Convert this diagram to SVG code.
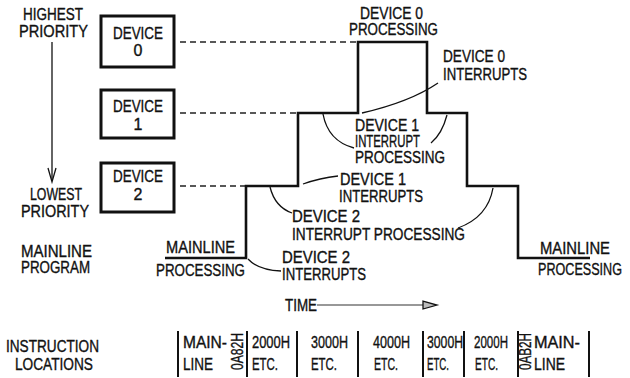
<svg xmlns="http://www.w3.org/2000/svg" width="630" height="378" viewBox="0 0 630 378">
<style>
text{font-family:"Liberation Sans",Arial,sans-serif;font-size:16px;fill:#111;stroke:#111;stroke-width:0.35}
.box{fill:#fff;stroke:#111;stroke-width:3}
.dash{fill:none;stroke:#222;stroke-width:1.3;stroke-dasharray:6 4}
.step{fill:none;stroke:#111;stroke-width:2.6}
.thin{fill:none;stroke:#111;stroke-width:1.3}
.bar{stroke:#111;stroke-width:2}
.c{text-anchor:middle}
</style>
<rect width="630" height="378" fill="#fff"/>
<g id="labels-left">
<text x="23" y="20" textLength="60" lengthAdjust="spacingAndGlyphs">HIGHEST</text>
<text x="19" y="37" textLength="69" lengthAdjust="spacingAndGlyphs">PRIORITY</text>
<text x="30" y="200" textLength="52" lengthAdjust="spacingAndGlyphs">LOWEST</text>
<text x="21" y="217" textLength="68" lengthAdjust="spacingAndGlyphs">PRIORITY</text>
<text x="21" y="257" textLength="71" lengthAdjust="spacingAndGlyphs">MAINLINE</text>
<text x="21" y="273" textLength="69" lengthAdjust="spacingAndGlyphs">PROGRAM</text>
<text x="6" y="352" textLength="93" lengthAdjust="spacingAndGlyphs">INSTRUCTION</text>
<text x="15" y="370" textLength="78" lengthAdjust="spacingAndGlyphs">LOCATIONS</text>
</g>
<g id="priority-arrow">
<line class="thin" x1="52" y1="42" x2="52" y2="181"/>
<polyline class="thin" points="48,168 52,182 56,168"/>
</g>
<g id="device0">
<rect class="box" x="101" y="16" width="73" height="51"/>
<text x="113" y="39" textLength="50" lengthAdjust="spacingAndGlyphs">DEVICE</text>
<text class="c" x="138" y="56">0</text>
</g>
<g id="device1">
<rect class="box" x="101" y="90" width="73" height="48"/>
<text x="113" y="112" textLength="50" lengthAdjust="spacingAndGlyphs">DEVICE</text>
<text class="c" x="138" y="130">1</text>
</g>
<g id="device2">
<rect class="box" x="101" y="163" width="73" height="49"/>
<text x="113" y="182" textLength="50" lengthAdjust="spacingAndGlyphs">DEVICE</text>
<text class="c" x="138" y="200">2</text>
</g>
<g id="connectors">
<line class="dash" x1="180" y1="42" x2="358" y2="42"/>
<line class="dash" x1="180" y1="113" x2="298" y2="113"/>
<line class="dash" x1="180" y1="186" x2="246" y2="186"/>
<polyline class="step" points="165,258 246,258 246,186 298,186 298,113 358,113 358,42 427,42 427,113 467,113 467,186 518,186 518,258 590,258"/>
<path class="thin" d="M323,114 Q328,141 354,148"/>
<path class="thin" d="M447,115 Q442,134 431,143"/>
<path class="thin" d="M362,113 Q410,102 438,83"/>
<path class="thin" d="M303,184 Q320,178 338,176"/>
<path class="thin" d="M270,187 Q275,207 292,213"/>
<path class="thin" d="M493,188 Q488,217 458,228"/>
<path class="thin" d="M248,259 Q258,270 281,271"/>
<line x1="317" y1="305" x2="424" y2="305" stroke="#333" stroke-width="1.2"/>
<polygon points="423,301 437,305 423,309" fill="#bbb" stroke="#111" stroke-width="1.3"/>
</g>
<g id="chart-labels">
<text x="360" y="19" textLength="63" lengthAdjust="spacingAndGlyphs">DEVICE 0</text>
<text x="349" y="35" textLength="89" lengthAdjust="spacingAndGlyphs">PROCESSING</text>
<text x="443" y="62" textLength="62" lengthAdjust="spacingAndGlyphs">DEVICE 0</text>
<text x="443" y="80" textLength="84" lengthAdjust="spacingAndGlyphs">INTERRUPTS</text>
<text x="355" y="131" textLength="64" lengthAdjust="spacingAndGlyphs">DEVICE 1</text>
<text x="355" y="147" textLength="65" lengthAdjust="spacingAndGlyphs">INTERRUPT</text>
<text x="355" y="163" textLength="90" lengthAdjust="spacingAndGlyphs">PROCESSING</text>
<text x="340" y="185" textLength="66" lengthAdjust="spacingAndGlyphs">DEVICE 1</text>
<text x="339" y="202" textLength="84" lengthAdjust="spacingAndGlyphs">INTERRUPTS</text>
<text x="292" y="222" textLength="68" lengthAdjust="spacingAndGlyphs">DEVICE 2</text>
<text x="292" y="240" textLength="173" lengthAdjust="spacingAndGlyphs">INTERRUPT PROCESSING</text>
<text x="282" y="263" textLength="68" lengthAdjust="spacingAndGlyphs">DEVICE 2</text>
<text x="282" y="280" textLength="84" lengthAdjust="spacingAndGlyphs">INTERRUPTS</text>
<text x="166" y="253" textLength="69" lengthAdjust="spacingAndGlyphs">MAINLINE</text>
<text x="156" y="276" textLength="89" lengthAdjust="spacingAndGlyphs">PROCESSING</text>
<text x="540" y="254" textLength="70" lengthAdjust="spacingAndGlyphs">MAINLINE</text>
<text x="538" y="275" textLength="84" lengthAdjust="spacingAndGlyphs">PROCESSING</text>
<text x="285" y="311" textLength="32" lengthAdjust="spacingAndGlyphs">TIME</text>
</g>
<g id="locations">
<line class="bar" x1="178" y1="331" x2="178" y2="377"/>
<line class="bar" x1="247" y1="331" x2="247" y2="377"/>
<line class="bar" x1="297" y1="331" x2="297" y2="377"/>
<line class="bar" x1="358" y1="331" x2="358" y2="377"/>
<line class="bar" x1="423" y1="331" x2="423" y2="377"/>
<line class="bar" x1="464" y1="331" x2="464" y2="377"/>
<line class="bar" x1="518" y1="331" x2="518" y2="377"/>
<line class="bar" x1="589" y1="331" x2="589" y2="377"/>
<text x="183" y="348" textLength="44" lengthAdjust="spacingAndGlyphs">MAIN-</text>
<text x="183" y="370" textLength="30" lengthAdjust="spacingAndGlyphs">LINE</text>
<text transform="translate(243,370) rotate(-90)" x="0" y="0" textLength="37" lengthAdjust="spacingAndGlyphs">0A82H</text>
<text x="252" y="348" textLength="38" lengthAdjust="spacingAndGlyphs">2000H</text>
<text x="252" y="370" textLength="26" lengthAdjust="spacingAndGlyphs">ETC.</text>
<text x="311" y="348" textLength="37" lengthAdjust="spacingAndGlyphs">3000H</text>
<text x="311" y="370" textLength="26" lengthAdjust="spacingAndGlyphs">ETC.</text>
<text x="373" y="348" textLength="37" lengthAdjust="spacingAndGlyphs">4000H</text>
<text x="374" y="370" textLength="24" lengthAdjust="spacingAndGlyphs">ETC.</text>
<text x="427" y="348" textLength="36" lengthAdjust="spacingAndGlyphs">3000H</text>
<text x="427" y="370" textLength="22" lengthAdjust="spacingAndGlyphs">ETC.</text>
<text x="474" y="348" textLength="34" lengthAdjust="spacingAndGlyphs">2000H</text>
<text x="475" y="370" textLength="23" lengthAdjust="spacingAndGlyphs">ETC.</text>
<text transform="translate(531,370) rotate(-90)" x="0" y="0" textLength="37" lengthAdjust="spacingAndGlyphs">0AB2H</text>
<text x="534" y="348" textLength="46" lengthAdjust="spacingAndGlyphs">MAIN-</text>
<text x="534" y="370" textLength="31" lengthAdjust="spacingAndGlyphs">LINE</text>
</g>
</svg>
